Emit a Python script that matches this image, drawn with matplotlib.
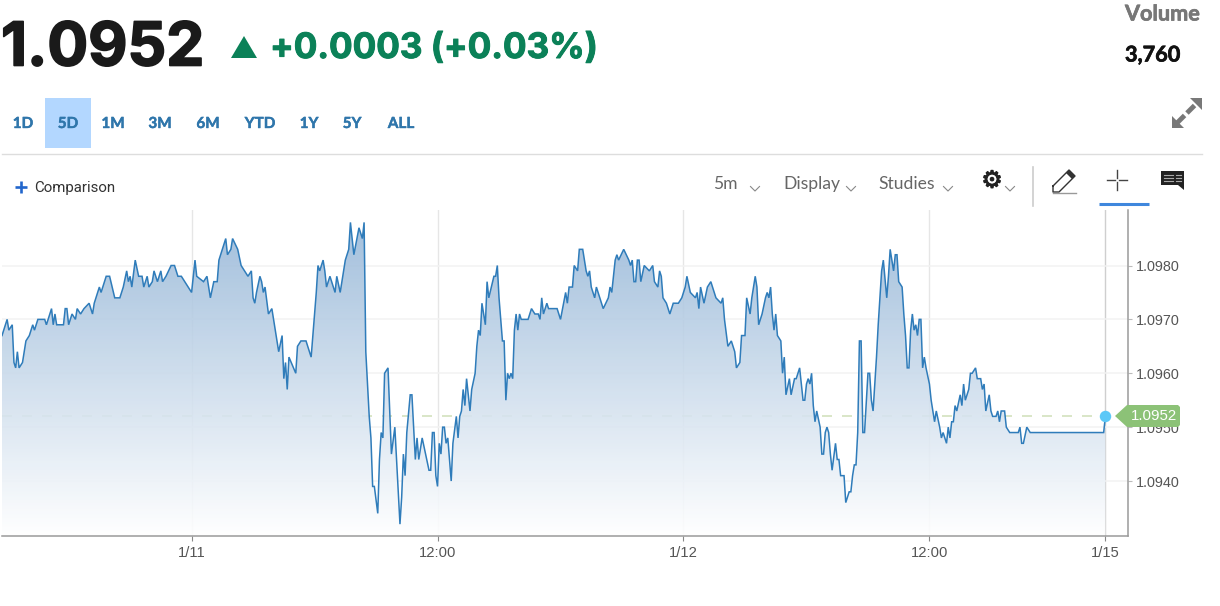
import numpy as np
import matplotlib
matplotlib.use("Agg")
import matplotlib.pyplot as plt
import matplotlib.patheffects as pe
from matplotlib.patches import Polygon, Rectangle

# ---- data: 5-minute bars from the start of the window, quotes in pips above 1.0900
bars1 = [0,3,4,6,7,8,9,10,12,14,16,18,19,21,25,26,29,30,31,32,36,37,38,39,41,43,44,46,48,51,53,54,56,57,58,61,63,66,69,71,73,74,75,76,78,80,82,83,85,86,88,89,91,93,94,96,99,101,103,105,107,111,113,114,118,120,122,124,126,127,129,131,132,134,135,138,140,144,146,147,148,149,151,152,153,154,156,158,160,162,164,165,166,167,168,172,173,175,178,181,182,184,185,186,188,189,190,192,195,196,198,201,203,204,206,209,211,212,213,215,216,217,218,220,221,222,223,224,226,228,230,231,233]
pips1 = [67,70,68,69,62,61,64,61,62,66,67,69,68,70,70,69,72,69,71,69,69,72,72,69,71,70,72,71,72,73,71,73,75,76,75,78,78,74,74,76,79,77,78,76,81,78,78,76,78,76,77,79,77,79,77,78,80,80,78,78,77,75,81,78,77,78,74,77,77,81,83,85,82,83,85,83,80,78,79,74,73,75,78,77,75,76,71,72,68,64,67,59,62,57,63,60,65,66,66,63,67,75,80,79,81,79,76,78,75,78,75,81,83,88,82,87,85,88,64,52,48,39,39,34,44,49,48,60,61,45,50,44,32]
bars2 = [234,235,236,237,239,240,242,243,244,246,248,250,251,252,253,254,255,256,257,258,259,260,261,262,263,264,266,267,268,269,270,271,272,274,275,277,278,279,280,281,283,284,285,288,289,290,291,293,294,295,296,297,298,299,300,301,302,303,304,308,310,312,314,315,316,317,319,320,325,327,330,331,332,334,335,337,338,340,342,343,344,345,347,348,350,352,355,356,357,359,360,361,364,367,368,369,370,371,372,373,374,376,379,381,382,384,385,386,387,389,391,393,396,398,400,401,403,406,407,408,409,411,413,415,418,421,422,423,425,427,429,430,432,433,435,436,438,439,441,442,443,445,447,448,449,450,451,452,453,454,456,457,458,459,461,462,464,465,467]
pips2 = [37,45,41,49,56,56,44,48,44,48,45,42,42,49,49,41,39,47,45,50,50,47,48,44,40,47,52,48,52,53,57,54,59,53,57,60,65,68,67,73,69,77,74,78,78,80,74,66,66,55,60,59,60,59,68,71,68,71,70,70,72,71,71,70,74,71,73,72,72,70,75,73,76,76,80,79,83,83,79,78,79,76,74,76,74,72,74,76,75,81,82,81,83,81,80,81,77,77,81,81,77,80,79,80,77,76,79,78,74,73,71,73,73,74,76,78,75,74,75,72,76,73,76,77,74,73,74,70,65,66,64,61,62,67,67,74,71,74,78,76,69,71,74,75,74,76,71,68,71,67,66,60,63,56,59,56,59,59,61]
bars3 = [469,470,471,472,473,474,475,476,477,479,480,481,482,483,484,485,486,488,489,490,491,493,494,496,497,498,499,500,501,502,503,504,505,507,508,509,510,511,512,513,515,516,518,519,520,522,523,524,525,527,528,529,530,531,532,533,534,535,536,537,538,539,540,541,543,544,545,546,547,549,550,551,553,554,555,556,557,558,559,561,562,563,564,566,567,568,570,571,573,574,575,576,578,579,580,582,583,584,585,587,588,590,595,596,597,598,600,602,645,646]
pips3 = [55,55,58,59,58,60,54,51,53,50,45,45,49,50,49,45,42,47,44,44,41,41,36,38,38,41,43,43,49,66,66,49,49,60,60,55,53,58,63,69,79,81,74,78,83,79,82,82,77,76,71,67,61,61,68,71,68,69,67,70,70,61,63,61,58,55,53,51,53,50,48,49,47,50,48,51,51,54,53,56,54,58,55,57,60,60,61,59,59,57,58,53,56,53,52,52,53,51,53,53,50,49,49,50,47,47,50,49,49,52]
x_tick_bars = [111, 255, 399, 543, 646]
x_tick_labels = ["1/11", "12:00", "1/12", "12:00", "1/15"]
y_ticks = [1.0940, 1.0950, 1.0960, 1.0970, 1.0980]
y_tick_labels = ["1.0940", "1.0950", "1.0960", "1.0970", "1.0980"]
last_quote = 1.0952
ranges = ["1D", "5D", "1M", "3M", "6M", "YTD", "1Y", "5Y", "ALL"]

bars = np.array(bars1 + bars2 + bars3, dtype=float)
quotes = 1.09 + np.array(pips1 + pips2 + pips3) / 1e4

W, H = 1220, 606
fig = plt.figure(figsize=(W / 100, H / 100), dpi=100, facecolor="white")
FONT = "Lato"
HEAD = "Inter"
NUM = "Liberation Sans"

# ---- main chart
L, R, T, B = 2, 1128, 210, 536
ax = fig.add_axes([L / W, 1 - B / H, (R - L) / W, (B - T) / H])
ax.set_xlim(0, (R - L) / 1.708)
ax.set_ylim(1.09298, 1.09903)
ax.set_facecolor("white")
for s in ["top", "left"]:
    ax.spines[s].set_visible(False)
for s in ["right", "bottom"]:
    ax.spines[s].set_color("#9a9a9a")
    ax.spines[s].set_linewidth(1.1)
ax.yaxis.tick_right()
ax.set_yticks(y_ticks, y_tick_labels)
ax.set_xticks(x_tick_bars, x_tick_labels)
ax.tick_params(axis="y", length=3, width=0.8, color="#bbbbbb", pad=3,
               labelsize=10.4, labelcolor="#555555")
ax.tick_params(axis="x", length=3.5, width=0.8, color="#888888", pad=4,
               labelsize=10.6, labelcolor="#555555")
for t in ax.get_xticklabels() + ax.get_yticklabels():
    t.set_fontfamily(NUM)
    t.set_y(t.get_position()[1])
ax.grid(axis="y", color="#f2f2f2", lw=1.1, zorder=0)
ax.grid(axis="x", color="#e6e6e6", lw=1.0, zorder=0)
ax.get_xgridlines()[-1].set_color("#cfcfcf")
ax.set_axisbelow(True)
ax.plot([0, bars[-1]], [last_quote, last_quote], color="#d3e2be", lw=1.2,
        dashes=(6, 6), zorder=1)

# gradient area
f = np.linspace(0, 1, 256)[:, None]
grad = np.zeros((256, 2, 4))
grad[..., 0] = (150 + (255 - 150) * f) / 255
grad[..., 1] = (183 + (255 - 183) * f) / 255
grad[..., 2] = (216 + (255 - 216) * f) / 255
grad[..., 3] = 0.88
ymin, ymax = ax.get_ylim()
top_q = quotes.max()
im = ax.imshow(grad, extent=[0, bars[-1], ymin, top_q], origin="upper",
               aspect="auto", zorder=2)
verts = np.column_stack([np.r_[bars[0], bars, bars[-1]], np.r_[ymin, quotes, ymin]])
clip = Polygon(verts, closed=True, transform=ax.transData, fc="none", ec="none")
ax.add_patch(clip)
im.set_clip_path(clip)
ax.set_xlim(0, (R - L) / 1.708)
ax.set_ylim(ymin, ymax)

ax.plot(bars, quotes, color="#2f7cba", lw=1.1, zorder=3, solid_joinstyle="miter")
ax.scatter([bars[-1]], [last_quote], s=68, color="#5cc8f7", zorder=4, linewidths=0)

# ---- overlay in screen pixels for the page furniture
ov = fig.add_axes([0, 0, 1, 1], zorder=5)
ov.set_xlim(0, W)
ov.set_ylim(H, 0)
ov.axis("off")
ov.patch.set_alpha(0)

# price pill
ov.add_patch(Polygon([(1115, 416), (1127, 405), (1178, 405), (1180, 407), (1180, 425),
                      (1178, 427), (1127, 427)], closed=True, fc="#8cc277", ec="none"))
ov.text(1154, 416.5, "1.0952", color="white", fontsize=10.8, family=NUM, ha="center", va="center")

def bold(txt, c, w):
    txt.set_path_effects([pe.withStroke(linewidth=w, foreground=c)])

# headline
t = ov.text(1, 49.5, "1.0952", fontsize=43.6, fontweight="bold", family=HEAD, color="#1a1a1a", va="center", ha="left")
bold(t, "#1a1a1a", 1.2)
ov.add_patch(Polygon([(231, 58), (257, 58), (244, 36)], closed=True, fc="#0b8158", ec="none"))
t = ov.text(270, 49, "+0.0003 (+0.03%)", fontsize=25.2, fontweight="bold", family=HEAD, color="#0b8158", va="center", ha="left")
bold(t, "#0b8158", 0.7)
t = ov.text(1125, 14, "Volume", fontsize=15.6, fontweight="bold", family=FONT, color="#777777", va="center", ha="left")
bold(t, "#777777", 0.5)
t = ov.text(1125, 55, "3,760", fontsize=15.6, fontweight="bold", family=FONT, color="#111111", va="center", ha="left")
bold(t, "#111111", 0.5)

# range buttons
ov.add_patch(Rectangle((45, 98), 46, 50, fc="#b3d7ff", ec="none"))
centres = [23, 68, 113, 160, 208, 260, 309, 352, 401]
for c, r in zip(centres, ranges):
    t = ov.text(c, 124, r, fontsize=11, fontweight="bold", family=FONT, color="#2f76ab", ha="center", va="center")
    bold(t, "#2f76ab", 0.3)
ov.plot([2, 1202], [153.5, 153.5], color="#dddddd", lw=1)

# expand icon
g = "#787878"
ov.plot([1177, 1197], [123, 103], color=g, lw=3.5, dashes=(2.2, 0.7))
ov.add_patch(Polygon([(1172, 128), (1172, 116), (1184, 128)], fc=g, ec="none"))
ov.add_patch(Polygon([(1202, 98), (1190, 98), (1202, 110)], fc=g, ec="none"))

# comparison
ov.plot([15, 27], [187, 187], color="#2266cc", lw=1.9, solid_capstyle="butt")
ov.plot([21, 21], [181, 193], color="#2266cc", lw=1.9, solid_capstyle="butt")
ov.text(34.5, 188, "Comparison", fontsize=10.8, family="Roboto", color="#333333", va="center", ha="left")

# toolbar
for x, s in [(713.5, "5m"), (783.5, "Display"), (878.5, "Studies")]:
    ov.text(x, 184, s, fontsize=12.6, family=FONT, color="#666666", va="center", ha="left")
for x in [755, 851, 948, 1010]:
    ov.plot([x - 4.5, x, x + 4.5], [186.5, 191, 186.5], color="#888888", lw=0.8)
t = ov.text(992, 180.5, "\u2699", fontsize=17, family="DejaVu Sans", color="#222222", ha="center", va="center")
bold(t, "#222222", 0.8)
ov.plot([1033, 1033], [167, 206], color="#cccccc", lw=1.2)
# pencil
ov.plot([1053, 1069, 1075, 1059, 1053, 1053], [186, 170, 176, 192, 192, 186], color="#333333", lw=1)
ov.add_patch(Polygon([(1066, 173), (1069, 170), (1075, 176), (1072, 179)], fc="#333333", ec="none"))
ov.plot([1053, 1076], [192.5, 192.5], color="#999999", lw=1)
# crosshair
for xs, ys in [([1107, 1115], [180, 180]), ([1119, 1127], [180, 180]),
               ([1117, 1117], [170, 178]), ([1117, 1117], [182, 190])]:
    ov.plot(xs, ys, color="#444444", lw=1)
ov.plot([1099, 1149], [204, 204], color="#3f87dd", lw=2.2, solid_capstyle="butt")
# comment icon
ov.add_patch(Polygon([(1161, 171), (1184, 171), (1184, 190), (1178, 185), (1161, 185)], fc="#222222", ec="none"))
for y in [175, 178, 181]:
    ov.plot([1164, 1173], [y, y], color="#aaaaaa", lw=0.8)
    ov.plot([1176, 1181], [y, y], color="#aaaaaa", lw=0.8)

fig.savefig("out.png", dpi=100, facecolor="white")
